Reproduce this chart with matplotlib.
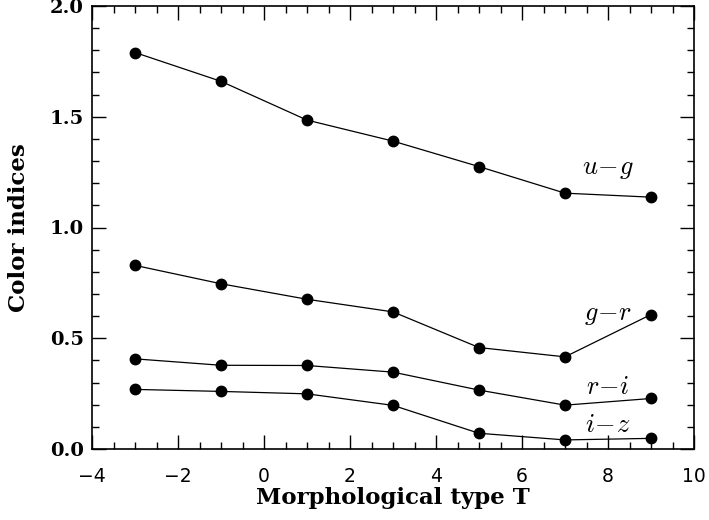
import matplotlib
matplotlib.use("Agg")
import matplotlib.pyplot as plt
from matplotlib.ticker import MultipleLocator, FormatStrFormatter

plt.rcParams['mathtext.fontset'] = 'cm'

T = [-3, -1, 1, 3, 5, 7, 9]
u_g = [1.79, 1.66, 1.485, 1.39, 1.275, 1.155, 1.137]
g_r = [0.829, 0.746, 0.676, 0.619, 0.458, 0.416, 0.607]
r_i = [0.407, 0.378, 0.377, 0.347, 0.266, 0.198, 0.228]
i_z = [0.269, 0.260, 0.249, 0.197, 0.071, 0.041, 0.048]
series = [u_g, g_r, r_i, i_z]
names = [r'$u\!-\!g$', r'$g\!-\!r$', r'$r\!-\!i$', r'$i\!-\!z$']
label_pos = [(8.0, 1.27), (8.0, 0.61), (8.0, 0.28), (8.0, 0.108)]

fig = plt.figure(figsize=(7.09, 5.20), dpi=100)
ax = fig.add_axes([92/709, 1 - 449/520, (694-92)/709, (449-6)/520])

for s in series:
    ax.plot(T, s, color='black', lw=0.9, marker='o', ms=7.5,
            markerfacecolor='black', markeredgecolor='black')

for name, (x, y) in zip(names, label_pos):
    ax.text(x, y, name, fontsize=19, ha='center', va='center')

ax.set_xlim(-4, 10)
ax.set_ylim(0, 2.0)
ax.xaxis.set_major_locator(MultipleLocator(2))
ax.xaxis.set_minor_locator(MultipleLocator(0.5))
ax.yaxis.set_major_locator(MultipleLocator(0.5))
ax.yaxis.set_minor_locator(MultipleLocator(0.1))
ax.yaxis.set_major_formatter(FormatStrFormatter('%.1f'))
ax.tick_params(which='both', direction='in', top=True, right=True, width=1)
ax.tick_params(which='major', length=10)
ax.tick_params(which='minor', length=5)
ax.tick_params(axis='x', which='major', labelsize=13.5, pad=13)
ax.tick_params(axis='y', which='major', labelsize=14, pad=6)
for lbl in ax.get_yticklabels():
    lbl.set_fontfamily('DejaVu Serif')
    lbl.set_fontweight('bold')
for lbl in ax.get_xticklabels():
    lbl.set_fontfamily('DejaVu Sans')
for sp in ax.spines.values():
    sp.set_linewidth(1.2)

ax.set_xlabel('Morphological type T', fontsize=16.5, fontfamily='DejaVu Serif',
              fontweight='bold', labelpad=1)
ax.set_ylabel('Color indices', fontsize=16.5, fontfamily='DejaVu Serif',
              fontweight='bold', labelpad=14)

fig.savefig('out.png', dpi=100)
